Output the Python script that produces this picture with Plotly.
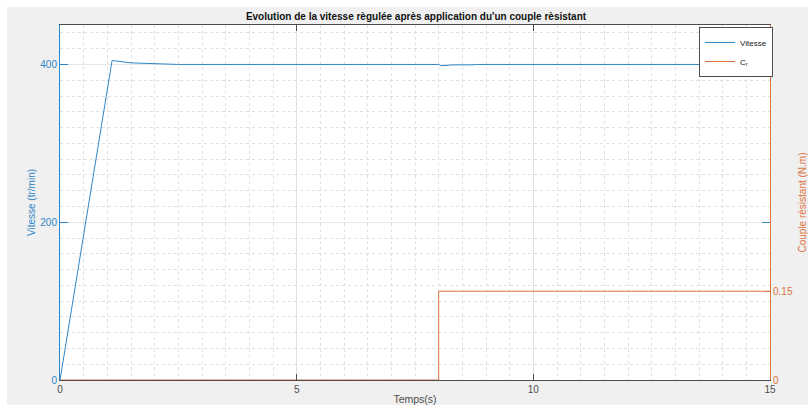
import plotly.graph_objects as go

# Régulation de vitesse : réponse à un échelon puis couple résistant à t = 8 s
time_speed = [0, 1.1, 1.5, 2.0, 2.5, 8.0, 8.04, 8.2, 8.25, 8.7, 8.8, 15]
speed = [0, 405, 402, 400.7, 400, 400, 398.5, 398.8, 399.4, 399.5, 400, 400]

time_torque = [0, 8, 8, 15]
torque = [0, 0, 0.15, 0.15]

x_ticks = [0, 5, 10, 15]
speed_ticks = [0, 200, 400]
torque_ticks = [0, 0.15]

BLUE = "#2f86c6"
ORANGE = "#dd7440"
DARK = "#4d4d4d"
FONT = "Liberation Sans, Arial, sans-serif"

W, H = 808, 405
L, R, T, B = 60, 38, 25, 25
pw, ph = W - L - R, H - T - B


def px_x(p):
    return (p - L) / pw


def px_y(p):
    return (H - B - p) / ph


fig = go.Figure()
fig.add_trace(go.Scatter(x=time_speed, y=speed, mode="lines", name="Vitesse",
                         line=dict(color=BLUE, width=1), yaxis="y"))
fig.add_trace(go.Scatter(x=time_torque, y=torque, mode="lines", name="C<sub>r</sub>",
                         line=dict(color=ORANGE, width=1), yaxis="y2"))

fig.update_layout(
    width=W, height=H,
    margin=dict(l=L, r=R, t=T, b=B),
    paper_bgcolor="#f0f0f0",
    plot_bgcolor="white",
    font=dict(family=FONT, size=10, color=DARK),
    title=dict(text="<b>Evolution de la vitesse règulée après application du'un couple rèsistant</b>",
               x=px_x(416), xref="paper", xanchor="center",
               y=1 - 16 / H, yref="container", yanchor="middle", automargin=False,
               font=dict(size=10, color="#111111")),
    xaxis=dict(range=[0, 15], tickvals=x_ticks, ticks="inside", ticklen=6,
               tickcolor=DARK, showline=True, linecolor=DARK, linewidth=1,
               mirror="ticks", showgrid=True, gridcolor="#e0e0e0", gridwidth=1,
               zeroline=False, automargin=False,
               minor=dict(dtick=0.5, showgrid=True, gridcolor="#e0e0e0",
                          griddash="dot", ticks=""),
               tickfont=dict(size=10, color=DARK),
               title=dict(text="Temps(s)", font=dict(size=10.5, color=DARK), standoff=5)),
    yaxis=dict(range=[0, 450], tickvals=speed_ticks, ticks="inside", ticklen=8,
               tickcolor=BLUE, showline=True, linecolor=BLUE, linewidth=1,
               mirror="ticks", showgrid=True, gridcolor="#e6e6e6", zeroline=False,
               automargin=False,
               minor=dict(dtick=20, showgrid=True, gridcolor="#e0e0e0",
                          griddash="dot", ticks=""),
               tickfont=dict(size=10, color=BLUE),
               title=dict(text="Vitesse (tr/min)", font=dict(size=10, color=BLUE), standoff=2)),
    yaxis2=dict(range=[0, 0.6], tickvals=torque_ticks, ticktext=["0", "0.15"],
                overlaying="y", side="right", ticks="inside", ticklen=6,
                tickcolor=ORANGE, showline=True, linecolor=ORANGE, linewidth=1,
                showgrid=False, zeroline=False, automargin=False,
                tickfont=dict(size=10, color=ORANGE),
                title=dict(text="Couple rèsistant (N.m)", font=dict(size=10, color=ORANGE), standoff=10)),
    legend=dict(x=px_x(773), xanchor="right", y=px_y(27), yanchor="top",
                bgcolor="white", bordercolor=DARK, borderwidth=1,
                font=dict(size=8, color="#222222"), tracegroupgap=0,
                itemwidth=30),
    shapes=[
        dict(type="rect", xref="paper", yref="paper", layer="below",
             x0=px_x(0), x1=px_x(7), y0=px_y(H), y1=px_y(0),
             fillcolor="white", line=dict(width=0)),
        dict(type="rect", xref="paper", yref="paper", layer="below",
             x0=px_x(0), x1=px_x(W), y0=px_y(7), y1=px_y(0),
             fillcolor="white", line=dict(width=0)),
    ],
)

fig.write_html("out.html")
